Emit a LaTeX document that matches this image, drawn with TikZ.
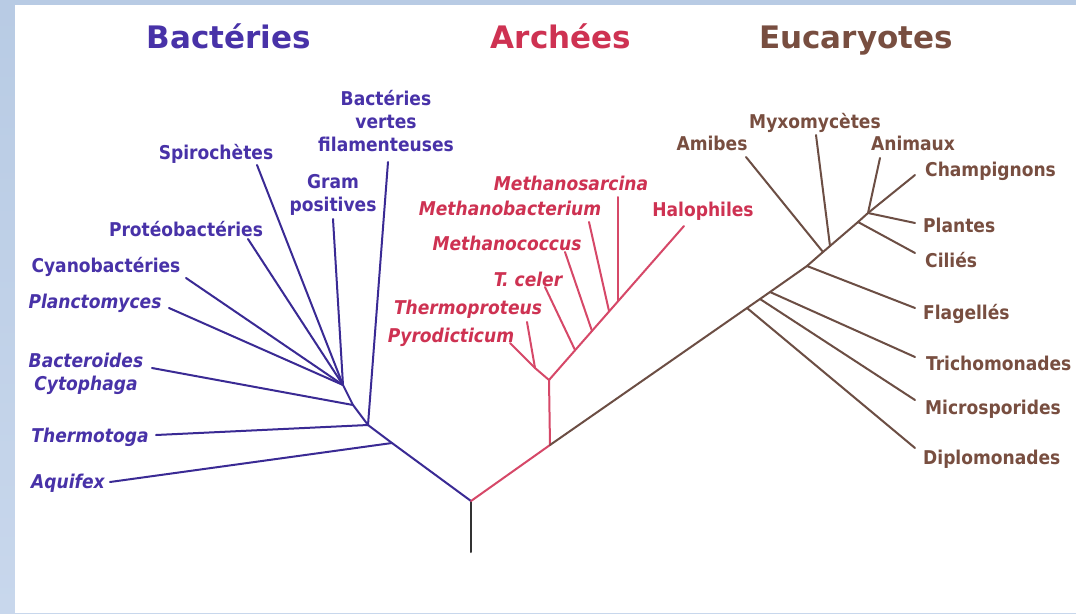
\documentclass[tikz,border=0pt]{standalone}
\usepackage{fontspec}
\setmainfont{DejaVu Sans}[
  BoldFont={DejaVu Sans Bold},
  ItalicFont={DejaVu Sans Oblique},
  BoldItalicFont={DejaVu Sans Bold Oblique}]
\newfontfamily\taxfont{DejaVu Sans Condensed Bold}[
  ItalicFont={DejaVu Sans Condensed Bold Oblique}]
\usetikzlibrary{positioning}
\definecolor{bacttext}{RGB}{72,50,168}
\definecolor{bactline}{RGB}{58,42,148}
\definecolor{archtext}{RGB}{206,50,82}
\definecolor{archline}{RGB}{214,72,104}
\definecolor{eucatext}{RGB}{120,78,64}
\definecolor{eucaline}{RGB}{108,78,68}
\definecolor{slidetop}{RGB}{184,203,228}
\definecolor{slidebot}{RGB}{200,215,236}

\begin{document}
\begin{tikzpicture}[x=1pt, y=-1pt,
    title/.style={font=\fontsize{31}{36}\selectfont\bfseries, anchor=base},
    taxon/.style={font=\fontsize{19}{23}\selectfont\taxfont, inner sep=0pt, anchor=base, align=center},
    taxonit/.style={taxon, font=\fontsize{19}{23}\selectfont\taxfont\itshape},
    branch/.style={line width=2pt, line cap=round, line join=round}]
    \useasboundingbox (0,0) rectangle (1076,613);
    \shade[top color=slidetop, bottom color=slidebot] (0,0) rectangle (1076,613);
    \fill[white] (15,5) rectangle (1076,613);

    % titles
    \node[title, text=bacttext] (tbact) at (229,48) {Bactéries};
    \node[title, text=archtext] (tarch) at (561,48) {Archées};
    \node[title, text=eucatext] (teuca) at (856,48) {Eucaryotes};

    % bacteria labels
    \node[taxon, text=bacttext] (spiro) at (216,159) {Spirochètes};
    \node[taxon, text=bacttext, anchor=south] (filam) at (386,152) {Bactéries\\vertes\\filamenteuses};
    \node[taxon, text=bacttext, anchor=south] (gram) at (333,216) {Gram\\positives};
    \node[taxon, text=bacttext] (proteo) at (186,236) {Protéobactéries};
    \node[taxon, text=bacttext] (cyano) at (106,272) {Cyanobactéries};
    \node[taxonit, text=bacttext] (plancto) at (95,308) {Planctomyces};
    \node[taxonit, text=bacttext, anchor=south] (bactero) at (86,395) {Bacteroides\\Cytophaga};
    \node[taxonit, text=bacttext] (thermotoga) at (90,442) {Thermotoga};
    \node[taxonit, text=bacttext] (aquifex) at (68,488) {Aquifex};

    % archaea labels
    \node[taxonit, text=archtext] (msarc) at (571,190) {Methanosarcina};
    \node[taxonit, text=archtext] (mbact) at (510,215) {Methanobacterium};
    \node[taxon, text=archtext] (halo) at (703,216) {Halophiles};
    \node[taxonit, text=archtext] (mcocc) at (507,250) {Methanococcus};
    \node[taxonit, text=archtext] (celer) at (528,286) {T. celer};
    \node[taxonit, text=archtext] (thermopro) at (468,314) {Thermoproteus};
    \node[taxonit, text=archtext] (pyro) at (451,342) {Pyrodicticum};

    % eukaryote labels
    \node[taxon, text=eucatext] (myxo) at (815,128) {Myxomycètes};
    \node[taxon, text=eucatext] (amibes) at (712,150) {Amibes};
    \node[taxon, text=eucatext] (animaux) at (913,150) {Animaux};
    \node[taxon, text=eucatext, anchor=base west] (champ) at (925,176) {Champignons};
    \node[taxon, text=eucatext, anchor=base west] (plantes) at (923,232) {Plantes};
    \node[taxon, text=eucatext, anchor=base west] (cilies) at (925,267) {Ciliés};
    \node[taxon, text=eucatext, anchor=base west] (flag) at (923,319) {Flagellés};
    \node[taxon, text=eucatext, anchor=base west] (tricho) at (926,370) {Trichomonades};
    \node[taxon, text=eucatext, anchor=base west] (micro) at (925,414) {Microsporides};
    \node[taxon, text=eucatext, anchor=base west] (diplo) at (923,464) {Diplomonades};

    % tree points
    \coordinate (stem) at (471,552);
    \coordinate (root) at (471,501);
    \coordinate (b1) at (392,443);
    \coordinate (b2) at (368,425);
    \coordinate (b3) at (353,405);
    \coordinate (b4) at (343,385);
    \coordinate (a1) at (550,445);
    \coordinate (a2) at (549,380);
    \coordinate (a3) at (535,368);
    \coordinate (a4) at (575,350);
    \coordinate (a5) at (592,331);
    \coordinate (a6) at (609,311);
    \coordinate (a7) at (618,301);
    \coordinate (e1) at (747,308);
    \coordinate (e2) at (760,299);
    \coordinate (e3) at (770,292);
    \coordinate (e4) at (807,266);
    \coordinate (e5) at (823,252);
    \coordinate (e6) at (830,246);
    \coordinate (e7) at (858,222);
    \coordinate (e8) at (868,213);

    % branch ends next to the labels
    \coordinate (spiro-t) at (257,165);
    \coordinate (filam-t) at (388,162);
    \coordinate (gram-t) at (333,219);
    \coordinate (proteo-t) at (248,239);
    \coordinate (cyano-t) at (186,278);
    \coordinate (plancto-t) at (169,308);
    \coordinate (bactero-t) at (152,368);
    \coordinate (thermotoga-t) at (156,435);
    \coordinate (aquifex-t) at (110,482);
    \coordinate (pyro-t) at (510,343);
    \coordinate (thermopro-t) at (527,322);
    \coordinate (celer-t) at (545,287);
    \coordinate (mcocc-t) at (565,252);
    \coordinate (mbact-t) at (589,222);
    \coordinate (msarc-t) at (618,197);
    \coordinate (halo-t) at (684,226);
    \coordinate (amibes-t) at (746,157);
    \coordinate (myxo-t) at (816,135);
    \coordinate (animaux-t) at (880,158);
    \coordinate (champ-t) at (915,175);
    \coordinate (plantes-t) at (915,223);
    \coordinate (cilies-t) at (915,253);
    \coordinate (flag-t) at (915,308);
    \coordinate (tricho-t) at (915,357);
    \coordinate (micro-t) at (915,400);
    \coordinate (diplo-t) at (915,448);

    % root
    \draw[branch, black!80] (stem) -- (root);

    % bacteria
    \draw[branch, bactline] (root) -- (b1) -- (b2) -- (b3) -- (b4);
    \draw[branch, bactline] (b1) -- (aquifex-t);
    \draw[branch, bactline] (b2) -- (thermotoga-t);
    \draw[branch, bactline] (b2) -- (filam-t);
    \draw[branch, bactline] (b3) -- (bactero-t);
    \draw[branch, bactline] (b4) -- (plancto-t);
    \draw[branch, bactline] (b4) -- (cyano-t);
    \draw[branch, bactline] (b4) -- (proteo-t);
    \draw[branch, bactline] (b4) -- (spiro-t);
    \draw[branch, bactline] (b4) -- (gram-t);

    % archaea
    \draw[branch, archline] (root) -- (a1) -- (a2) -- (a3);
    \draw[branch, archline] (a3) -- (pyro-t);
    \draw[branch, archline] (a3) -- (thermopro-t);
    \draw[branch, archline] (a2) -- (halo-t);
    \draw[branch, archline] (a4) -- (celer-t);
    \draw[branch, archline] (a5) -- (mcocc-t);
    \draw[branch, archline] (a6) -- (mbact-t);
    \draw[branch, archline] (a7) -- (msarc-t);

    % eukaryotes
    \draw[branch, eucaline] (a1) -- (e1) -- (e2) -- (e3) -- (e4) -- (e5) -- (e6) -- (e7) -- (e8);
    \draw[branch, eucaline] (e1) -- (diplo-t);
    \draw[branch, eucaline] (e2) -- (micro-t);
    \draw[branch, eucaline] (e3) -- (tricho-t);
    \draw[branch, eucaline] (e4) -- (flag-t);
    \draw[branch, eucaline] (e5) -- (amibes-t);
    \draw[branch, eucaline] (e6) -- (myxo-t);
    \draw[branch, eucaline] (e7) -- (cilies-t);
    \draw[branch, eucaline] (e8) -- (plantes-t);
    \draw[branch, eucaline] (e8) -- (champ-t);
    \draw[branch, eucaline] (e8) -- (animaux-t);
\end{tikzpicture}
\end{document}
